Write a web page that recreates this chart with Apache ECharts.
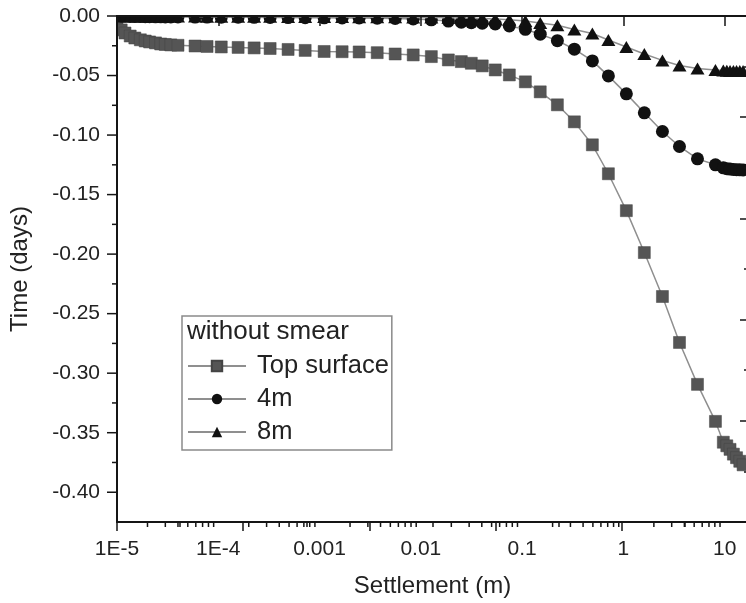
<!DOCTYPE html>
<html><head><meta charset="utf-8">
<script src="https://cdn.jsdelivr.net/npm/echarts@6/dist/echarts.min.js"></script>
<style>html,body{margin:0;padding:0;background:#fff}#c{width:746px;height:603px}</style>
</head><body><div id="c"></div>
<script>
// ---- data ----
const xValues = [1.0e-5, 1.1e-5, 1.2e-5, 1.35e-5, 1.5e-5, 1.7e-5, 1.9e-5, 2.1e-5, 2.4e-5, 2.7e-5, 3.0e-5, 3.4e-5,
  4.0e-5, 5.9e-5, 7.75e-5, 1.07e-4, 1.57e-4, 2.26e-4, 3.25e-4, 4.89e-4, 7.21e-4, 1.11e-3, 1.67e-3, 2.46e-3,
  3.71e-3, 5.58e-3, 8.41e-3, 1.27e-2, 1.87e-2, 2.51e-2, 3.15e-2, 4.04e-2, 5.43e-2, 7.48e-2, 0.1077, 0.151,
  0.223, 0.328, 0.494, 0.711, 1.07, 1.61, 2.43, 3.58, 5.39, 8.11,
  9.7, 10.5, 11.3, 12.2, 13.1, 14.1, 15.2];
const topSurface = [-0.009, -0.0117, -0.0143, -0.0168, -0.0185, -0.020, -0.021, -0.0218, -0.0226, -0.0235, -0.0239, -0.0243,
  -0.0246, -0.0252, -0.0256, -0.026, -0.0264, -0.0268, -0.0273, -0.0281, -0.0289, -0.0298, -0.0300, -0.0302,
  -0.0308, -0.0319, -0.0327, -0.0341, -0.0369, -0.0383, -0.0397, -0.0419, -0.0453, -0.0495, -0.0553, -0.0637,
  -0.0746, -0.0889, -0.1082, -0.1325, -0.1635, -0.1987, -0.2356, -0.2742, -0.3094, -0.3405,
  -0.358, -0.361, -0.364, -0.368, -0.371, -0.374, -0.377];
const depth4m = [0, -0.0002, -0.0003, -0.0004, -0.0005, -0.0005, -0.0006, -0.0006, -0.0007, -0.0007, -0.0008, -0.0008,
  -0.0008, -0.0009, -0.0009, -0.001, -0.001, -0.0011, -0.0012, -0.0013, -0.0014, -0.0015, -0.0016, -0.0017,
  -0.0019, -0.0021, -0.0025, -0.0032, -0.0043, -0.0052, -0.0056, -0.0061, -0.0067, -0.0084, -0.0112, -0.0153,
  -0.0207, -0.0279, -0.0377, -0.0503, -0.0654, -0.0813, -0.097, -0.1096, -0.120, -0.125,
  -0.1275, -0.1282, -0.1286, -0.1289, -0.1291, -0.1292, -0.1293];
const depth8m = [0, -0.0001, -0.0002, -0.0002, -0.0003, -0.0003, -0.0003, -0.0004, -0.0004, -0.0004, -0.0005, -0.0005,
  -0.0005, -0.0005, -0.0006, -0.0006, -0.0006, -0.0007, -0.0007, -0.0008, -0.0008, -0.0009, -0.0009, -0.001,
  -0.001, -0.0011, -0.0012, -0.0013, -0.0015, -0.0017, -0.0019, -0.0021, -0.0025, -0.0031, -0.0042, -0.0059,
  -0.0078, -0.0113, -0.0147, -0.0201, -0.026, -0.0319, -0.0373, -0.0415, -0.044, -0.0453,
  -0.0458, -0.046, -0.0461, -0.0462, -0.0462, -0.0463, -0.0463];
const seriesNames = ['Top surface', '4m', '8m'];
const legendTitle = 'without smear';
const xTickLabels = ['1E-5', '1E-4', '0.001', '0.01', '0.1', '1', '10'];
const xMinorTickValues = [
  2e-5, 3e-5, 4e-5, 5e-5, 6e-5, 7e-5, 8e-5, 9e-5,
  2e-4, 3e-4, 4e-4, 5e-4, 6e-4, 7e-4, 8e-4, 9e-4,
  0.002, 0.003, 0.004, 0.005, 0.006, 0.007, 0.008, 0.009,
  0.02, 0.03, 0.04, 0.05, 0.06, 0.07, 0.08, 0.09,
  0.2, 0.3, 0.4, 0.5, 0.6, 0.7, 0.8, 0.9,
  2, 3, 4, 5, 6, 7, 8, 9];
const yMajorTickValues = [0, -0.05, -0.10, -0.15, -0.20, -0.25, -0.30, -0.35, -0.40];
const yMinorTickValues = [-0.025, -0.075, -0.125, -0.175, -0.225, -0.275, -0.325, -0.375];

// ---- layout / style ----
const FONT = "'Liberation Sans', Arial, sans-serif";
const gridLeft = 117, gridTop = 16, gridRight = -2, gridBottom = 81;
const xMin = 1e-5, xMax = 17, yMin = -0.425, yMax = 0;
const axisColor = '#151515';

const pairs = arr => xValues.map((x, i) => [x, arr[i]]);

const tickData = [];
xMinorTickValues.forEach(v => tickData.push([v, yMin, 5, 0]));
yMajorTickValues.forEach(v => tickData.push([xMin, v, 10, 1]));
yMinorTickValues.forEach(v => tickData.push([xMin, v, 5, 1]));

const chart = echarts.init(document.getElementById('c'), null, {renderer: 'canvas'});
chart.setOption({
  animation: false,
  backgroundColor: '#fff',
  textStyle: {fontFamily: FONT},
  grid: {left: gridLeft, top: gridTop, right: gridRight, bottom: gridBottom, containLabel: false, outerBoundsMode: 'none'},
  title: {
    text: legendTitle, left: 187, top: 319, padding: 0, z: 30,
    textStyle: {fontSize: 26, fontWeight: 'normal', color: '#222', fontFamily: FONT}
  },
  legend: {
    data: seriesNames, orient: 'vertical', left: 182, top: 316,
    padding: [37, 3, 5, 5], itemGap: 7, itemWidth: 58, itemHeight: 13,
    borderColor: '#8a8a8a', borderWidth: 1.5, z: 20,
    textStyle: {fontSize: 25.5, color: '#222', fontFamily: FONT, padding: [0, 0, 0, 6]}
  },
  graphic: [
    {type: 'rect', shape: {x: 0, y: 0, width: 746, height: gridTop - 1}, style: {fill: '#fff'}, z: 5, silent: true},
    {type: 'rect', shape: {x: 0, y: 0, width: gridLeft - 1, height: 603}, style: {fill: '#fff'}, z: 5, silent: true}
  ],
  xAxis: [{
    type: 'log', logBase: 10, min: xMin, max: xMax, position: 'bottom', z: 10,
    axisLine: {show: true, lineStyle: {color: axisColor, width: 2}},
    axisTick: {show: true, inside: false, length: 10, lineStyle: {color: axisColor, width: 1.5}},
    minorTick: {show: false},
    splitLine: {show: false},
    axisLabel: {
      fontSize: 21, color: '#222', margin: 17, fontFamily: FONT, showMaxLabel: false,
      formatter: v => {
        const l = Math.log10(v), e = Math.round(l);
        if (Math.abs(l - e) > 1e-6) return '';
        return xTickLabels[e + 5] || '';
      }
    },
    name: 'Settlement (m)', nameLocation: 'middle', nameGap: 52,
    nameTextStyle: {fontSize: 24, color: '#222', fontFamily: FONT}
  }, {
    type: 'value', position: 'top', min: 0, max: 5, interval: 1, z: 10,
    axisLine: {show: true, lineStyle: {color: axisColor, width: 2}},
    axisTick: {show: true, inside: true, length: 9, lineStyle: {color: axisColor, width: 1.5}},
    minorTick: {show: true, splitNumber: 2, length: 5, lineStyle: {color: axisColor, width: 1.5}},
    axisLabel: {show: false}, splitLine: {show: false}, minorSplitLine: {show: false}
  }],
  yAxis: [{
    type: 'value', min: yMin, max: yMax, interval: 0.025, position: 'left', z: 10,
    axisLine: {show: true, lineStyle: {color: axisColor, width: 2}},
    axisTick: {show: false},
    splitLine: {show: false},
    axisLabel: {
      fontSize: 21, color: '#222', margin: 17, fontFamily: FONT,
      formatter: v => {
        const k = v / 0.05;
        if (Math.abs(k - Math.round(k)) > 1e-6) return '';
        if (Math.abs(v) < 1e-9) return '0.00';
        return v.toFixed(2);
      }
    },
    name: 'Time (days)', nameLocation: 'middle', nameGap: 85,
    nameTextStyle: {fontSize: 24, color: '#222', fontFamily: FONT}
  }, {
    type: 'value', position: 'right', min: 0, max: 5, interval: 1, z: 10,
    axisLine: {show: true, lineStyle: {color: axisColor, width: 2}},
    axisTick: {show: true, inside: true, length: 8, lineStyle: {color: axisColor, width: 1.5}},
    minorTick: {show: true, splitNumber: 2, length: 4, lineStyle: {color: axisColor, width: 1.5}},
    axisLabel: {show: false}, splitLine: {show: false}, minorSplitLine: {show: false}
  }],
  series: [{
    name: seriesNames[0], type: 'line', data: pairs(topSurface), xAxisIndex: 0, yAxisIndex: 0,
    symbol: 'rect', symbolSize: 12, z: 2,
    itemStyle: {color: '#555555', borderColor: '#444', borderWidth: 0.5},
    lineStyle: {color: '#8f8f8f', width: 1.5}
  }, {
    name: seriesNames[1], type: 'line', data: pairs(depth4m), xAxisIndex: 0, yAxisIndex: 0,
    symbol: 'circle', symbolSize: 13, z: 3,
    itemStyle: {color: '#111111'},
    lineStyle: {color: '#8f8f8f', width: 1.5}
  }, {
    name: seriesNames[2], type: 'line', data: pairs(depth8m), xAxisIndex: 0, yAxisIndex: 0,
    symbol: 'triangle', symbolSize: [14, 12], z: 4,
    itemStyle: {color: '#111111'},
    lineStyle: {color: '#8f8f8f', width: 1.5}
  }, {
    name: 'ticks', type: 'custom', data: tickData, xAxisIndex: 0, yAxisIndex: 0,
    clip: false, silent: true, z: 12, encode: {x: 0, y: 1},
    renderItem: (params, api) => {
      const p = api.coord([api.value(0), api.value(1)]);
      const len = api.value(2);
      const style = {stroke: axisColor, lineWidth: 1.5};
      if (api.value(3) === 0) {
        return {type: 'line', shape: {x1: p[0], y1: p[1], x2: p[0], y2: p[1] + len}, style};
      }
      return {type: 'line', shape: {x1: p[0] - len, y1: p[1], x2: p[0], y2: p[1]}, style};
    }
  }]
});
</script>
</body></html>
